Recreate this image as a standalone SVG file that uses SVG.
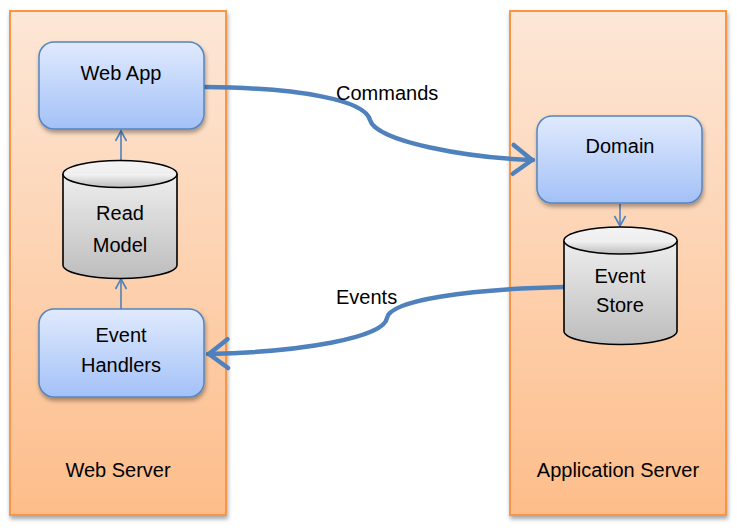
<svg xmlns="http://www.w3.org/2000/svg" width="737" height="532" viewBox="0 0 737 532">
<defs>
<linearGradient id="gServer" x1="0" y1="0" x2="0" y2="1">
<stop offset="0" stop-color="#fde7d7"/>
<stop offset="1" stop-color="#fdbd8a"/>
</linearGradient>
<linearGradient id="gBox" x1="0" y1="0" x2="0" y2="1">
<stop offset="0" stop-color="#e0eafd"/>
<stop offset="1" stop-color="#a3c1f8"/>
</linearGradient>
<linearGradient id="gCyl" x1="0" y1="0" x2="0" y2="1">
<stop offset="0" stop-color="#f4f4f4"/>
<stop offset="1" stop-color="#bdbdbd"/>
</linearGradient>
<filter id="sh" x="-20%" y="-20%" width="140%" height="140%">
<feDropShadow dx="1" dy="3" stdDeviation="2" flood-color="#000" flood-opacity="0.35"/>
</filter>
<marker id="thin" viewBox="0 0 14 14" refX="12" refY="7" markerWidth="14" markerHeight="14" markerUnits="userSpaceOnUse" orient="auto">
<path d="M2,1.5 L12,7 L2,12.5" fill="none" stroke="#4f81bd" stroke-width="1.6"/>
</marker>
<marker id="thick" viewBox="0 0 6 8" refX="5.2" refY="4" markerWidth="6" markerHeight="8" orient="auto">
<path d="M0.8,0.8 L5,4 L0.8,7.2" fill="none" stroke="#4f81bd" stroke-width="1" stroke-linecap="round" stroke-linejoin="round"/>
</marker>
</defs>
<style>
.server{fill:url(#gServer);stroke:#f79646;stroke-width:2;filter:url(#sh)}
.box{fill:url(#gBox);stroke:#5585c0;stroke-width:1.5;filter:url(#sh)}
.cyl{fill:url(#gCyl);stroke:#000;stroke-width:1.6}
.t{font-family:"Liberation Sans",Arial,sans-serif;font-size:20px;fill:#000;text-anchor:middle}
.lbl{font-family:"Liberation Sans",Arial,sans-serif;font-size:20px;fill:#000}
.thin{fill:none;stroke:#4f81bd;stroke-width:1.6}
.thick{fill:none;stroke:#4f81bd;stroke-width:4.5;stroke-linecap:round}
</style>
<rect width="737" height="532" fill="#fff"/>
<g id="web-server">
<rect class="server" x="10" y="11" width="216" height="504"/>
<text class="t" x="118" y="477">Web Server</text>
</g>
<g id="application-server">
<rect class="server" x="510" y="11" width="216" height="504"/>
<text class="t" x="618" y="477">Application Server</text>
</g>
<g id="connectors">
<path class="thin" d="M121,162 L121,131" marker-end="url(#thin)"/>
<path class="thin" d="M121,309 L121,279" marker-end="url(#thin)"/>
<path class="thin" d="M620,204 L620,226" marker-end="url(#thin)"/>
<path class="thick" d="M205,87 C300,88 365,100 370,120 C376,142 470,158 533,160" marker-end="url(#thick)"/>
<path class="thick" d="M564,287 C470,289 390,300 387,318 C384,338 300,352 208,354" marker-end="url(#thick)"/>
<text class="lbl" x="336" y="100">Commands</text>
<text class="lbl" x="336" y="304">Events</text>
</g>
<g id="web-app">
<rect class="box" x="39" y="42" width="165" height="87" rx="15"/>
<text class="t" x="121" y="80">Web App</text>
</g>
<g id="read-model">
<path class="cyl" d="M63,174 L63,265 A57,13.5 0 0 0 177,265 L177,174 A57,13.5 0 0 0 63,174 Z"/>
<path class="cyl" d="M63,174 A57,13.5 0 0 0 177,174" fill="none"/>
<text class="t" x="120" y="220">Read</text>
<text class="t" x="120" y="252">Model</text>
</g>
<g id="event-handlers">
<rect class="box" x="39" y="309" width="165" height="88" rx="15"/>
<text class="t" x="121" y="342">Event</text>
<text class="t" x="121" y="372">Handlers</text>
</g>
<g id="domain">
<rect class="box" x="537" y="116" width="165" height="87" rx="15"/>
<text class="t" x="620" y="153">Domain</text>
</g>
<g id="event-store">
<path class="cyl" d="M564,240.5 L564,331 A56.5,13.5 0 0 0 677,331 L677,240.5 A56.5,13.5 0 0 0 564,240.5 Z"/>
<path class="cyl" d="M564,240.5 A56.5,13.5 0 0 0 677,240.5" fill="none"/>
<text class="t" x="620" y="283">Event</text>
<text class="t" x="620" y="312">Store</text>
</g>
</svg>
